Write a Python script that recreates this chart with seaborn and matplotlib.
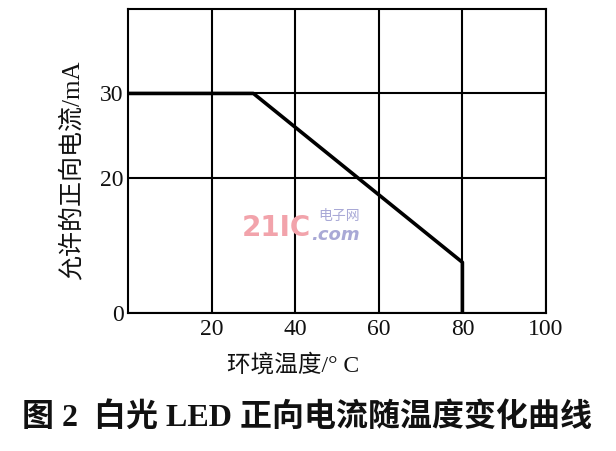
import matplotlib

matplotlib.use("Agg")

import matplotlib.pyplot as plt
import pandas as pd
import seaborn as sns

# derating curve: allowed forward current vs ambient temperature
temp_c = [0, 30, 80, 80]
current_ma = [30, 30, 10, 0]

x_ticks = [20, 40, 60, 80, 100]
y_ticks = [4, 20, 30]          # bottom of the (broken) axis is labelled 0
y_tick_labels = ["0", "20", "30"]

x_label = "环境温度/° C"
y_label = "允许的正向电流/mA"
caption = "图 2  白光 LED 正向电流随温度变化曲线"

FONTS = ["Liberation Serif", "Noto Sans CJK SC", "DejaVu Sans"]

sns.set_theme(style="white")
plt.rcParams["font.family"] = FONTS

df = pd.DataFrame({"temp": temp_c, "current": current_ma})

fig = plt.figure(figsize=(6.16, 4.51), dpi=100)
ax = fig.add_axes([128 / 616, 1 - 313 / 451, 418 / 616, 304 / 451])

sns.lineplot(data=df, x="temp", y="current", sort=False, estimator=None,
             ax=ax, color="black", linewidth=2.6, zorder=3)

ax.set_xlim(0, 100)
ax.set_ylim(4, 40)
ax.set_xticks(x_ticks)
ax.set_yticks(y_ticks, labels=y_tick_labels)
ax.tick_params(length=0, labelsize=17, colors="#111111")
ax.tick_params(axis="x", pad=4)
ax.tick_params(axis="y", pad=3)
ax.grid(True, color="black", linewidth=1.5)
for s in ax.spines.values():
    s.set_color("black")
    s.set_linewidth(1.5)
ax.set_xlabel("")
ax.set_ylabel("")

fig.text(293 / 616, 1 - 365 / 451, x_label, ha="center", va="center",
         fontsize=17, color="#111111")
fig.text(72 / 616, 1 - 170 / 451, y_label, ha="center", va="center",
         rotation=90, fontsize=18, color="#111111")
fig.text(307 / 616, 1 - 417 / 451, caption, ha="center", va="center",
         fontsize=23, fontweight="bold", color="#111111")

# watermark
fig.text(242 / 616, 1 - 228 / 451, "21IC", ha="left", va="center",
         fontsize=20, fontweight="bold", color="#f2a3ab",
         family=["DejaVu Sans"], zorder=5)
fig.text(318 / 616, 1 - 216 / 451, "电子网", ha="left", va="center",
         fontsize=10, color="#a9a9d6", zorder=5)
fig.text(311 / 616, 1 - 235 / 451, ".com", ha="left", va="center",
         fontsize=13, style="italic", fontweight="bold", color="#a9a9d6",
         family=["DejaVu Sans"], zorder=5)

fig.savefig("out.png", dpi=100)
